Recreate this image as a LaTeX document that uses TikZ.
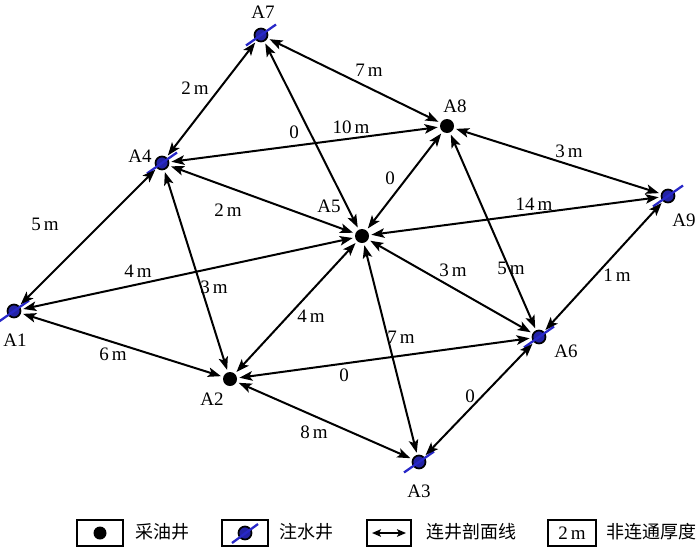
\documentclass[tikz,border=0pt]{standalone}
\usepackage{fontspec}
\setmainfont{Liberation Serif}
\newfontfamily\cjk{Noto Sans CJK SC}
\usetikzlibrary{arrows.meta}
\definecolor{wfill}{RGB}{35,35,165}
\definecolor{wline}{RGB}{40,40,200}
\begin{document}
\begin{tikzpicture}[x=1pt,y=-1pt,
  every node/.style={font=\fontsize{19}{22}\selectfont},
  oil/.style={circle, fill=black, minimum size=14pt, inner sep=0pt, outer sep=2.5pt},
  water/.style={circle, fill=wfill, draw=black, line width=1.7pt, minimum size=13pt, inner sep=0pt, outer sep=3pt},
  slash/.style={draw=wline, line width=2.3pt},
  conn/.style={line width=2pt, {Stealth[length=13pt,width=9.5pt,inset=3pt]}-{Stealth[length=13pt,width=9.5pt,inset=3pt]}},
  lab/.style={inner sep=1pt},
  legbox/.style={draw=black, line width=1.2pt, minimum width=46pt, minimum height=26pt, inner sep=0pt},
  legtext/.style={anchor=west, inner sep=0pt, font=\cjk\fontsize{18}{20}\selectfont}
]
\useasboundingbox (0,0) rectangle (700,549);

% wells
\node[water] (A7) at (261,35) {};
\node[water] (A4) at (162,163) {};
\node[oil]   (A8) at (447,126) {};
\node[oil]   (A5) at (362,236) {};
\node[water] (A9) at (668,196) {};
\node[water] (A1) at (14,311) {};
\node[oil]   (A2) at (230,379) {};
\node[water] (A6) at (539,337) {};
\node[water] (A3) at (419,462) {};

\foreach \w in {A7,A4,A9,A1,A6,A3}{
  \draw[slash] ([shift={(-15,10.5)}]\w.center) -- ([shift={(15,-10.5)}]\w.center);
}

% well names
\node[lab] (lA7) at (263,12) {A7};
\node[lab] (lA4) at (140,156) {A4};
\node[lab] (lA8) at (455,106) {A8};
\node[lab] (lA5) at (329,206) {A5};
\node[lab] (lA9) at (684,220) {A9};
\node[lab] (lA1) at (15,340) {A1};
\node[lab] (lA2) at (212,399) {A2};
\node[lab] (lA6) at (566,351) {A6};
\node[lab] (lA3) at (419,491) {A3};

% connectors
\draw[conn] (A7) -- (A4);
\draw[conn] (A7) -- (A8);
\draw[conn] (A7) -- (A5);
\draw[conn] (A4) -- (A8);
\draw[conn] (A4) -- (A5);
\draw[conn] (A4) -- (A1);
\draw[conn] (A4) -- (A2);
\draw[conn] (A8) -- (A5);
\draw[conn] (A8) -- (A9);
\draw[conn] (A8) -- (A6);
\draw[conn] (A5) -- (A9);
\draw[conn] (A5) -- (A1);
\draw[conn] (A5) -- (A2);
\draw[conn] (A5) -- (A6);
\draw[conn] (A5) -- (A3);
\draw[conn] (A9) -- (A6);
\draw[conn] (A1) -- (A2);
\draw[conn] (A2) -- (A6);
\draw[conn] (A2) -- (A3);
\draw[conn] (A6) -- (A3);

% edge labels
\node[lab] (e74) at (195,88) {2\,m};
\node[lab] (e78) at (369,70) {7\,m};
\node[lab] (e75) at (294,132) {0};
\node[lab] (e48) at (351,127) {10\,m};
\node[lab] (e45) at (228,210) {2\,m};
\node[lab] (e41) at (45,224) {5\,m};
\node[lab] (e42) at (214,287) {3\,m};
\node[lab] (e85) at (390,178) {0};
\node[lab] (e89) at (569,151) {3\,m};
\node[lab] (e86) at (511,268) {5\,m};
\node[lab] (e59) at (534,204) {14\,m};
\node[lab] (e51) at (138,271) {4\,m};
\node[lab] (e52) at (311,316) {4\,m};
\node[lab] (e56) at (453,270) {3\,m};
\node[lab] (e53) at (401,337) {7\,m};
\node[lab] (e96) at (617,275) {1\,m};
\node[lab] (e12) at (113,354) {6\,m};
\node[lab] (e26) at (344,375) {0};
\node[lab] (e23) at (314,432) {8\,m};
\node[lab] (e63) at (470,396) {0};

% legend
\node[legbox] (L1) at (100,533) {};
\node[oil, minimum size=13pt] (L1d) at (L1.center) {};
\node[legtext] (L1t) at (135,532) {采油井};

\node[legbox] (L2) at (245,533) {};
\node[water] (L2w) at (L2.center) {};
\draw[slash] ([shift={(-13,10)}]L2w.center) -- ([shift={(13,-9)}]L2w.center);
\node[legtext] (L2t) at (279,532) {注水井};

\node[legbox, minimum width=44pt] (L3) at (389,533) {};
\coordinate (L3a) at (372,533);
\coordinate (L3b) at (406,533);
\draw[line width=2pt, {Stealth[length=9pt,width=7.5pt,inset=2pt]}-{Stealth[length=9pt,width=7.5pt,inset=2pt]}] (L3a) -- (L3b);
\node[legtext] (L3t) at (426,532) {连井剖面线};

\node[legbox, minimum width=48pt] (L4) at (572,533) {2\,m};
\node[legtext] (L4t) at (606,532) {非连通厚度};
\end{tikzpicture}
\end{document}
